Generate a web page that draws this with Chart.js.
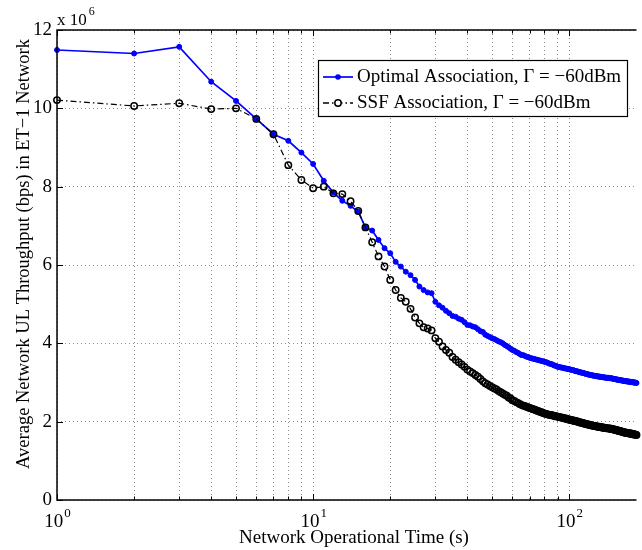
<!DOCTYPE html>
<html>
<head>
<meta charset="utf-8">
<script src="https://cdn.jsdelivr.net/npm/chart.js@4.4.0/dist/chart.umd.min.js"></script>
<style>
html, body { margin: 0; padding: 0; background: #fff; }
#wrap { width: 642px; height: 550px; position: relative; }
</style>
</head>
<body>
<div id="wrap"><canvas id="chart"></canvas></div>
<script>
// --- data (throughput in units of 10^6 bps) ---
const timeSec = [
  1, 2, 3, 4, 5, 6, 7, 8, 9, 10, 11, 12, 13, 14, 15, 16, 17, 18, 19, 20,
  21, 22, 23, 24, 25, 26, 27, 28, 29, 30, 31, 32, 33, 34, 35, 36, 37, 38, 39, 40,
  41, 42, 43, 44, 45, 46, 47, 48, 49, 50, 51, 52, 53, 54, 55, 56, 57, 58, 59, 60,
  61, 62, 63, 64, 65, 66, 67, 68, 69, 70, 71, 72, 73, 74, 75, 76, 77, 78, 79, 80,
  81, 82, 83, 84, 85, 86, 87, 88, 89, 90, 91, 92, 93, 94, 95, 96, 97, 98, 99, 100,
  101, 102, 103, 104, 105, 106, 107, 108, 109, 110, 111, 112, 113, 114, 115, 116, 117, 118, 119, 120,
  121, 122, 123, 124, 125, 126, 127, 128, 129, 130, 131, 132, 133, 134, 135, 136, 137, 138, 139, 140,
  141, 142, 143, 144, 145, 146, 147, 148, 149, 150, 151, 152, 153, 154, 155, 156, 157, 158, 159, 160,
  161, 162, 163, 164, 165, 166, 167, 168, 169, 170, 171, 172, 173, 174, 175, 176, 177, 178, 179, 180,
  181, 182, 183
];

const optimalThroughput = [
  11.49, 11.40, 11.57, 10.68, 10.19, 9.73, 9.34, 9.17, 8.87, 8.58,
  8.15, 7.85, 7.64, 7.51, 7.36, 6.96, 6.88, 6.64, 6.43, 6.30,
  6.08, 5.96, 5.83, 5.74, 5.62, 5.45, 5.36, 5.30, 5.28, 5.06,
  4.97, 4.91, 4.83, 4.77, 4.70, 4.68, 4.63, 4.60, 4.54, 4.47,
  4.46, 4.43, 4.41, 4.36, 4.31, 4.29, 4.22, 4.19, 4.16, 4.13,
  4.11, 4.08, 4.05, 4.03, 4.00, 3.96, 3.93, 3.90, 3.86, 3.83,
  3.81, 3.78, 3.76, 3.73, 3.70, 3.70, 3.68, 3.66, 3.65, 3.63,
  3.62, 3.61, 3.60, 3.59, 3.58, 3.57, 3.56, 3.55, 3.54, 3.53,
  3.52, 3.51, 3.49, 3.48, 3.47, 3.46, 3.44, 3.43, 3.42, 3.40,
  3.40, 3.39, 3.38, 3.38, 3.37, 3.36, 3.36, 3.35, 3.34, 3.34,
  3.33, 3.32, 3.32, 3.31, 3.30, 3.29, 3.29, 3.28, 3.27, 3.26,
  3.26, 3.25, 3.24, 3.24, 3.23, 3.22, 3.22, 3.21, 3.20, 3.20,
  3.19, 3.19, 3.18, 3.18, 3.17, 3.17, 3.17, 3.16, 3.16, 3.15,
  3.15, 3.15, 3.14, 3.14, 3.14, 3.13, 3.13, 3.13, 3.12, 3.12,
  3.12, 3.12, 3.11, 3.11, 3.11, 3.11, 3.10, 3.10, 3.09, 3.09,
  3.09, 3.08, 3.08, 3.07, 3.07, 3.07, 3.06, 3.06, 3.06, 3.05,
  3.05, 3.05, 3.04, 3.04, 3.04, 3.03, 3.03, 3.03, 3.03, 3.02,
  3.02, 3.02, 3.02, 3.01, 3.01, 3.01, 3.01, 3.00, 3.00, 3.00,
  3.00, 2.99, 2.99
];

const ssfThroughput = [
  10.21, 10.06, 10.13, 9.98, 10.00, 9.73, 9.34, 8.55, 8.17, 7.96,
  8.00, 7.83, 7.81, 7.63, 7.38, 6.96, 6.58, 6.22, 5.96, 5.62,
  5.36, 5.16, 5.06, 4.88, 4.66, 4.51, 4.41, 4.38, 4.33, 4.13,
  4.04, 3.92, 3.83, 3.76, 3.65, 3.58, 3.52, 3.46, 3.40, 3.33,
  3.28, 3.24, 3.19, 3.15, 3.09, 3.03, 2.98, 2.95, 2.91, 2.88,
  2.85, 2.82, 2.78, 2.75, 2.72, 2.69, 2.66, 2.62, 2.59, 2.55,
  2.53, 2.50, 2.48, 2.45, 2.43, 2.41, 2.40, 2.38, 2.37, 2.35,
  2.34, 2.32, 2.31, 2.29, 2.28, 2.27, 2.25, 2.24, 2.22, 2.21,
  2.20, 2.19, 2.18, 2.17, 2.17, 2.16, 2.15, 2.14, 2.14, 2.13,
  2.12, 2.11, 2.11, 2.10, 2.09, 2.08, 2.08, 2.07, 2.06, 2.05,
  2.05, 2.04, 2.03, 2.03, 2.02, 2.01, 2.01, 2.00, 1.99, 1.98,
  1.98, 1.97, 1.96, 1.96, 1.95, 1.94, 1.94, 1.93, 1.92, 1.92,
  1.91, 1.91, 1.90, 1.90, 1.89, 1.89, 1.88, 1.88, 1.87, 1.87,
  1.87, 1.86, 1.86, 1.85, 1.85, 1.85, 1.84, 1.84, 1.84, 1.83,
  1.83, 1.83, 1.83, 1.82, 1.82, 1.82, 1.81, 1.81, 1.80, 1.80,
  1.79, 1.79, 1.78, 1.78, 1.77, 1.77, 1.76, 1.76, 1.75, 1.75,
  1.74, 1.74, 1.73, 1.73, 1.72, 1.72, 1.72, 1.71, 1.71, 1.71,
  1.70, 1.70, 1.70, 1.69, 1.69, 1.69, 1.68, 1.68, 1.68, 1.67,
  1.67, 1.67, 1.66
];

const xMajorTicks = [1, 10, 100];
const xMinorTicks = [2, 3, 4, 5, 6, 7, 8, 9, 20, 30, 40, 50, 60, 70, 80, 90];
const yTicks = [0, 2, 4, 6, 8, 10, 12];
const yExponent = '6';
const legendLabels = ['Optimal Association, \u0393 = \u221260dBm', 'SSF Association, \u0393 = \u221260dBm'];
const xTitle = 'Network Operational Time (s)';
const yTitle = 'Average Network UL Throughput (bps) in ET\u22121 Network';

const serif = '"Liberation Serif", "Times New Roman", serif';
const blue = '#0000ff';
const ssfDash = [6, 3, 1.5, 3];

// --- MATLAB-like frame, ticks, labels and legend ---
const matlabFrame = {
    id: 'matlabFrame',
    afterDraw(chart) {
        const ctx = chart.ctx;
        const xs = chart.scales.x, ys = chart.scales.y;
        const a = chart.chartArea;
        ctx.save();

        // inner tick marks
        ctx.strokeStyle = '#000';
        ctx.lineWidth = 1;
        ctx.beginPath();
        xMinorTicks.concat(xMajorTicks).forEach(v => {
            const px = Math.round(xs.getPixelForValue(v)) + 0.5;
            const len = xMajorTicks.includes(v) ? 6 : 3.5;
            ctx.moveTo(px, a.bottom); ctx.lineTo(px, a.bottom - len);
            ctx.moveTo(px, a.top); ctx.lineTo(px, a.top + len);
        });
        yTicks.forEach(v => {
            const py = Math.round(ys.getPixelForValue(v)) + 0.5;
            ctx.moveTo(a.left, py); ctx.lineTo(a.left + 6, py);
        });
        ctx.stroke();

        // axes box (right side is cut off in the original)
        ctx.lineWidth = 1.5;
        ctx.beginPath();
        ctx.moveTo(a.right, a.top);
        ctx.lineTo(a.left, a.top);
        ctx.lineTo(a.left, a.bottom);
        ctx.lineTo(a.right, a.bottom);
        ctx.stroke();

        ctx.fillStyle = '#000';
        // x tick labels 10^n
        xMajorTicks.forEach(v => {
            const px = xs.getPixelForValue(v);
            const exp = String(Math.round(Math.log10(v)));
            ctx.font = '19px ' + serif;
            const wBase = ctx.measureText('10').width;
            ctx.font = '13px ' + serif;
            const wExp = ctx.measureText(exp).width;
            const x0 = px - (wBase + wExp) / 2;
            ctx.textAlign = 'left';
            ctx.textBaseline = 'alphabetic';
            ctx.font = '19px ' + serif;
            ctx.fillText('10', x0, a.bottom + 27);
            ctx.font = '13px ' + serif;
            ctx.fillText(exp, x0 + wBase + 1, a.bottom + 17);
        });

        // y multiplier "x 10^6"
        ctx.font = '17px ' + serif;
        ctx.textAlign = 'left';
        ctx.fillText('x 10', a.left, a.top - 5);
        const wMul = ctx.measureText('x 10').width;
        ctx.font = '12px ' + serif;
        ctx.fillText(yExponent, a.left + wMul + 2, a.top - 15);

        // axis titles
        ctx.font = '19px ' + serif;
        ctx.textAlign = 'center';
        ctx.fillText(xTitle, 354, a.bottom + 43);

        ctx.save();
        ctx.translate(24, 254);
        ctx.rotate(-Math.PI / 2);
        ctx.font = '18.5px ' + serif;
        ctx.textBaseline = 'middle';
        ctx.fillText(yTitle, 0, 0);
        ctx.restore();

        // legend box
        const lx = 318, ly = 60, lw = 309, lh = 56;
        ctx.fillStyle = '#fff';
        ctx.fillRect(lx, ly, lw, lh);
        ctx.strokeStyle = '#000';
        ctx.lineWidth = 1.2;
        ctx.strokeRect(lx + 0.5, ly + 0.5, lw, lh);

        const rows = [ly + 17, ly + 43];
        // row 1: optimal
        ctx.strokeStyle = blue;
        ctx.lineWidth = 1.7;
        ctx.beginPath();
        ctx.moveTo(lx + 5, rows[0]); ctx.lineTo(lx + 35, rows[0]);
        ctx.stroke();
        ctx.fillStyle = blue;
        ctx.beginPath();
        ctx.arc(lx + 20, rows[0], 2.8, 0, Math.PI * 2);
        ctx.fill();
        // row 2: ssf
        ctx.strokeStyle = '#000';
        ctx.lineWidth = 1.3;
        ctx.setLineDash(ssfDash);
        ctx.beginPath();
        ctx.moveTo(lx + 5, rows[1]); ctx.lineTo(lx + 35, rows[1]);
        ctx.stroke();
        ctx.setLineDash([]);
        ctx.lineWidth = 1.5;
        ctx.fillStyle = '#fff';
        ctx.beginPath();
        ctx.arc(lx + 20, rows[1], 3.2, 0, Math.PI * 2);
        ctx.fill();
        ctx.stroke();

        ctx.fillStyle = '#000';
        ctx.font = '19px ' + serif;
        ctx.textAlign = 'left';
        ctx.textBaseline = 'middle';
        ctx.fillText(legendLabels[0], lx + 39, rows[0]);
        ctx.fillText(legendLabels[1], lx + 39, rows[1]);

        ctx.restore();
    }
};

const chart = new Chart(document.getElementById('chart'), {
    type: 'line',
    data: {
        datasets: [
            {
                label: legendLabels[0],
                data: timeSec.map((t, i) => ({ x: t, y: optimalThroughput[i] })),
                borderColor: blue,
                backgroundColor: blue,
                borderWidth: 1.7,
                pointRadius: 2.5,
                pointBorderWidth: 1,
                pointBackgroundColor: blue,
                pointBorderColor: blue,
                tension: 0,
                clip: false,
                order: 1
            },
            {
                label: legendLabels[1],
                data: timeSec.map((t, i) => ({ x: t, y: ssfThroughput[i] })),
                borderColor: '#000',
                backgroundColor: 'rgba(0,0,0,0)',
                borderWidth: 1.2,
                borderDash: ssfDash,
                pointRadius: 3.2,
                pointBorderWidth: 1.5,
                pointBackgroundColor: 'rgba(0,0,0,0)',
                pointBorderColor: '#000',
                tension: 0,
                clip: false,
                order: 0
            }
        ]
    },
    options: {
        responsive: true,
        maintainAspectRatio: false,
        animation: false,
        devicePixelRatio: 1,
        layout: { padding: { top: 30, right: 0, left: 0, bottom: 0 } },
        plugins: {
            legend: { display: false },
            tooltip: { enabled: false }
        },
        scales: {
            x: {
                type: 'logarithmic',
                min: 1,
                max: 183,
                afterBuildTicks: s => {
                    s.ticks = xMajorTicks.concat(xMinorTicks).sort((p, q) => p - q).map(v => ({ value: v }));
                },
                afterFit: s => { s.height = 50; },
                ticks: { display: false },
                grid: { color: '#8c8c8c', lineWidth: 1, drawTicks: false },
                border: { display: false, dash: [1, 3] }
            },
            y: {
                min: 0,
                max: 12,
                afterBuildTicks: s => { s.ticks = yTicks.map(v => ({ value: v })); },
                afterFit: s => { s.width = 57; },
                ticks: {
                    font: { family: serif, size: 19 },
                    color: '#000',
                    padding: 5
                },
                grid: { color: '#8c8c8c', lineWidth: 1, drawTicks: false },
                border: { display: false, dash: [1, 3] }
            }
        }
    },
    plugins: [matlabFrame]
});
</script>
</body>
</html>
